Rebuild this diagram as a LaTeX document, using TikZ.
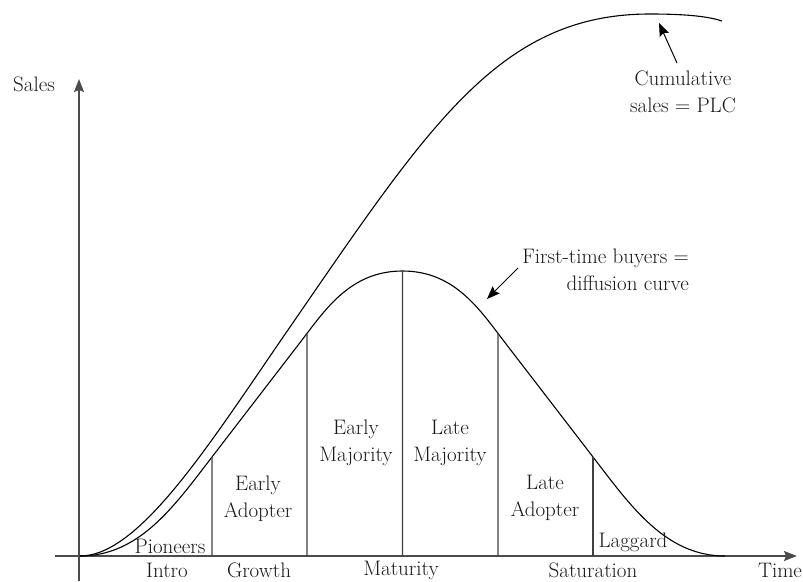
\documentclass[tikz,border=0pt]{standalone}
\usetikzlibrary{arrows.meta,intersections}
\begin{document}
\begin{tikzpicture}[x=1pt,y=-1pt,
  axis/.style={draw=black!70, line width=1.3pt, -{Stealth[length=13pt,width=10pt,inset=2pt]}},
  curve/.style={draw=black, line width=1.1pt},
  divider/.style={draw=black!75, line width=1.1pt},
  pointer/.style={draw=black, line width=1pt, -{Stealth[length=13pt,width=10pt,inset=2pt]}},
  lbl/.style={font=\fontsize{21}{27}\selectfont, text=black!90, inner sep=0pt, align=center}]
\useasboundingbox (0,0) rectangle (803,581);

% axes
\coordinate (origin) at (79,556);
\coordinate (ytop) at (79,79);
\coordinate (ybot) at (79,581);
\coordinate (xleft) at (55,556);
\coordinate (xright) at (797,556);
\draw[axis] (ybot) -- (ytop);
\draw[axis] (xleft) -- (xright);

% cumulative sales (PLC): an S-curve levelling off near the top
\draw[curve] (80,556) .. controls (140,556) and (210,443) .. (290,327)
  .. controls (430,124) and (500,14) .. (650,14)
  .. controls (690,14) and (710,17) .. (722,21);

% first-time buyers (diffusion curve): straight flanks and a flat, rounded top
\draw[curve, name path=diff] (80,556) .. controls (140,556) and (175,505) .. (212,457)
  -- (300,342.6)
  .. controls (325,310.1) and (350,271) .. (402.5,271)
  .. controls (455,271) and (480,310.1) .. (505,342.6)
  -- (593,457)
  .. controls (630,505) and (665,556) .. (725,556);

% adopter category dividers, from the time axis up to the diffusion curve
\foreach \px [count=\i] in {212,307,402.5,498,593} {
  \path[name path=cut\i] (\px,556) -- (\px,240);
  \draw[divider, name intersections={of=diff and cut\i}] (\px,556) -- (intersection-1);
}

% axis labels
\node[lbl] (sales) at (34,84) {Sales};
\node[lbl] (time) at (780,570) {Time};

% curve annotations
\node[lbl] (plc) at (683,92) {Cumulative\\sales = PLC};
\coordinate (plctip) at (659,23);
\draw[pointer] (677,63) -- (plctip);

\node[lbl, align=right, anchor=east] (diffl) at (689,270) {First-time buyers =\\diffusion curve};
\coordinate (difftip) at (487,299);
\draw[pointer] (518,268) -- (difftip);

% adopter categories
\node[lbl] (pion) at (170,546) {Pioneers};
\node[lbl] (eadopt) at (258,499) {Early\\Adopter};
\node[lbl] (emaj) at (356,443) {Early\\Majority};
\node[lbl] (lmaj) at (450,443) {Late\\Majority};
\node[lbl] (ladopt) at (545,498) {Late\\Adopter};
\node[lbl] (lag) at (633,542) {Laggard};

% life-cycle stages
\node[lbl] (intro) at (167,570) {Intro};
\node[lbl] (growth) at (259,570) {Growth};
\node[lbl] (mature) at (401,570) {Maturity};
\node[lbl] (satur) at (593,570) {Saturation};
\end{tikzpicture}
\end{document}
